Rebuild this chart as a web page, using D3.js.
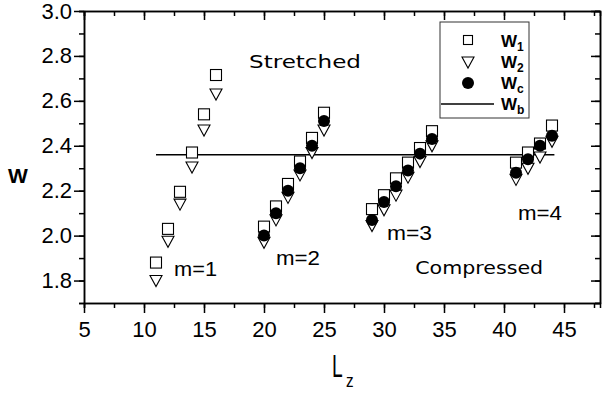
<!DOCTYPE html>
<html>
<head>
<meta charset="utf-8">
<script src="https://cdn.jsdelivr.net/npm/d3@7"></script>
<style>
  body { margin: 0; background: #fff; }
  svg { display: block; }
  .axis path, .axis line { stroke: #000; stroke-width: 1.5; }
  .axis text { font-family: "Liberation Sans", Arial, sans-serif; font-size: 22px; fill: #000; }
</style>
</head>
<body>
<div id="chart"></div>
<script>
// L_z values, one entry per point (m=1: 11-16, m=2: 20-25, m=3: 29-34, m=4: 41-44)
const lz = [11, 12, 13, 14, 15, 16, 20, 21, 22, 23, 24, 25, 29, 30, 31, 32, 33, 34, 41, 42, 43, 44];
const w1 = [1.88, 2.03, 2.195, 2.37, 2.54, 2.715, 2.04, 2.13, 2.23, 2.33, 2.435, 2.547,
            2.118, 2.18, 2.255, 2.325, 2.39, 2.465, 2.325, 2.37, 2.41, 2.49];
const w2 = [1.80, 1.975, 2.14, 2.305, 2.47, 2.63, 1.97, 2.07, 2.17, 2.27, 2.37, 2.47,
            2.045, 2.115, 2.18, 2.26, 2.33, 2.40, 2.25, 2.30, 2.35, 2.42];
const wc = [null, null, null, null, null, null, 2.0, 2.10, 2.20, 2.30, 2.40, 2.51,
            2.07, 2.15, 2.22, 2.29, 2.365, 2.43, 2.28, 2.34, 2.40, 2.445];
const wb = 2.36;
const wbRange = [11, 44.2];

const xTicks = [5, 10, 15, 20, 25, 30, 35, 40, 45];
const yTicks = [1.8, 2.0, 2.2, 2.4, 2.6, 2.8, 3.0];

// text annotations placed in data coordinates (left edge, baseline)
const annotations = [
  { text: "Stretched", x: 18.75, y: 2.747, comic: true, len: 112 },
  { text: "Compressed", x: 32.6, y: 1.831, comic: true, len: 128 },
  { text: "m=1", x: 12.5, y: 1.818, len: 43 },
  { text: "m=2", x: 21.0, y: 1.871, len: 44 },
  { text: "m=3", x: 30.25, y: 1.982, len: 45 },
  { text: "m=4", x: 41.17, y: 2.071, len: 44 }
];

const width = 602, height = 397;
const margin = { left: 84, right: 600, top: 11, bottom: 303 };

const svg = d3.select('#chart').append('svg')
  .attr('width', width)
  .attr('height', height);

const x = d3.scaleLinear().domain([5, 48]).range([margin.left, margin.right]);
const y = d3.scaleLinear().domain([1.7, 3.0]).range([margin.bottom, margin.top]);

const xMinor = d3.range(5, 48.01, 2.5);
const yMinor = d3.range(1.7, 3.001, 0.1).map(v => +v.toFixed(2));

// minor ticks
svg.append('g').attr('class', 'axis')
  .attr('transform', `translate(0,${margin.bottom})`)
  .call(d3.axisBottom(x).tickValues(xMinor).tickSize(5).tickFormat(''));
svg.append('g').attr('class', 'axis')
  .attr('transform', `translate(0,${margin.top})`)
  .call(d3.axisTop(x).tickValues(xMinor).tickSize(-5).tickFormat(''));
svg.append('g').attr('class', 'axis')
  .attr('transform', `translate(${margin.left},0)`)
  .call(d3.axisLeft(y).tickValues(yMinor).tickSize(5).tickFormat(''));
svg.append('g').attr('class', 'axis')
  .attr('transform', `translate(${margin.right},0)`)
  .call(d3.axisRight(y).tickValues(yMinor).tickSize(-5).tickFormat(''));

// major ticks
svg.append('g').attr('class', 'axis')
  .attr('transform', `translate(0,${margin.bottom})`)
  .call(d3.axisBottom(x).tickValues(xTicks).tickSize(10).tickSizeOuter(0).tickPadding(8).tickFormat(d3.format('d')));
svg.append('g').attr('class', 'axis')
  .attr('transform', `translate(0,${margin.top})`)
  .call(d3.axisTop(x).tickValues(xTicks).tickSize(-9).tickSizeOuter(0).tickFormat(''));
svg.append('g').attr('class', 'axis')
  .attr('transform', `translate(${margin.left},0)`)
  .call(d3.axisLeft(y).tickValues(yTicks).tickSize(10).tickSizeOuter(0).tickPadding(2).tickFormat(d3.format('.1f')));
svg.append('g').attr('class', 'axis')
  .attr('transform', `translate(${margin.right},0)`)
  .call(d3.axisRight(y).tickValues(yTicks).tickSize(-9).tickSizeOuter(0).tickFormat(''));

// axis titles
svg.append('text')
  .attr('x', 18).attr('y', 183)
  .attr('text-anchor', 'middle')
  .attr('font-family', '"Liberation Sans", Arial, sans-serif')
  .attr('font-weight', 'bold')
  .attr('font-size', 21)
  .text('W');

svg.append('text')
  .attr('transform', 'translate(332,377) scale(0.62,1)')
  .attr('font-family', '"Liberation Sans", Arial, sans-serif')
  .attr('font-size', 31)
  .text('L');
svg.append('text')
  .attr('transform', 'translate(346,387) scale(0.8,1)')
  .attr('font-family', '"Liberation Sans", Arial, sans-serif')
  .attr('font-size', 19)
  .text('z');

// bulk width line
svg.append('line')
  .attr('x1', x(wbRange[0])).attr('x2', x(wbRange[1]))
  .attr('y1', y(wb)).attr('y2', y(wb))
  .attr('stroke', '#000').attr('stroke-width', 1.6);

const pts = lz.map((l, i) => ({ l, w1: w1[i], w2: w2[i], wc: wc[i] }));
const sq = 11, tri = 12, rad = 6;

svg.append('g').selectAll('rect')
  .data(pts).enter().append('rect')
  .attr('x', d => x(d.l) - sq / 2)
  .attr('y', d => y(d.w1) - sq / 2)
  .attr('width', sq).attr('height', sq)
  .attr('fill', '#fff').attr('stroke', '#000').attr('stroke-width', 1.1);

const triPath = (cx, cy) => `M${cx - tri / 2},${cy - tri * 0.42}L${cx + tri / 2},${cy - tri * 0.42}L${cx},${cy + tri * 0.5}Z`;
svg.append('g').selectAll('path')
  .data(pts).enter().append('path')
  .attr('d', d => triPath(x(d.l), y(d.w2)))
  .attr('fill', '#fff').attr('stroke', '#000').attr('stroke-width', 1.1);

svg.append('g').selectAll('circle')
  .data(pts.filter(d => d.wc !== null)).enter().append('circle')
  .attr('cx', d => x(d.l)).attr('cy', d => y(d.wc))
  .attr('r', rad).attr('fill', '#000');

// annotations
annotations.forEach(a => {
  svg.append('text')
    .attr('x', x(a.x)).attr('y', y(a.y))
    .attr('font-family', a.comic ? '"Comic Sans MS", "DejaVu Sans", sans-serif' : '"Liberation Sans", Arial, sans-serif')
    .attr('font-size', a.comic ? 18 : 20)
    .attr('textLength', a.len)
    .attr('lengthAdjust', 'spacingAndGlyphs')
    .text(a.text);
});

// legend
const lg = svg.append('g');
lg.append('rect')
  .attr('x', 440).attr('y', 22).attr('width', 89).attr('height', 96)
  .attr('fill', '#fff').attr('stroke', '#333').attr('stroke-width', 1);
lg.append('rect')
  .attr('x', 463.5).attr('y', 35.5).attr('width', 9).attr('height', 9)
  .attr('fill', '#fff').attr('stroke', '#000').attr('stroke-width', 1.1);
lg.append('path')
  .attr('d', triPath(468, 62))
  .attr('fill', '#fff').attr('stroke', '#000').attr('stroke-width', 1.1);
lg.append('circle').attr('cx', 468).attr('cy', 83).attr('r', rad).attr('fill', '#000');
lg.append('line')
  .attr('x1', 441).attr('x2', 494).attr('y1', 104).attr('y2', 104)
  .attr('stroke', '#000').attr('stroke-width', 1.6);

const legendLabels = [['1', 47], ['2', 68], ['c', 89], ['b', 110]];
legendLabels.forEach(([sub, by]) => {
  const t = lg.append('text')
    .attr('x', 501).attr('y', by)
    .attr('font-family', '"Liberation Sans", Arial, sans-serif')
    .attr('font-weight', 'bold');
  t.append('tspan').attr('font-size', 17).text('W');
  t.append('tspan').attr('font-size', 12).attr('dy', 4).text(sub);
});
</script>
</body>
</html>
